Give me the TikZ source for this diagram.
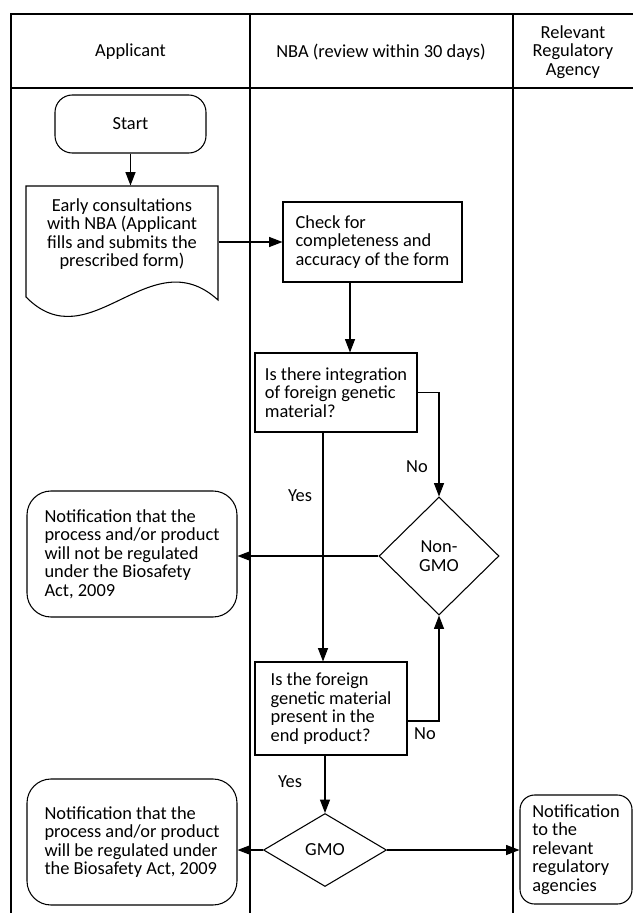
\documentclass[tikz,border=0pt]{standalone}
\usepackage{fontspec}
\setmainfont{Carlito}
\usetikzlibrary{arrows.meta,shapes.geometric}

\tikzset{
  arr/.style={-{Triangle[length=10pt,width=7.5pt]}},
  procbox/.style={draw, align=left, inner sep=0pt},
  termbox/.style={draw, rounded corners=18pt, align=left, inner sep=0pt},
  decision/.style={draw, diamond, align=center, inner sep=0pt},
  docbox/.style={align=center, inner sep=0pt},
  lanehead/.style={align=center, inner sep=0pt},
  lbl/.style={inner sep=0pt},
}

\begin{document}
\begin{tikzpicture}[x=0.75pt,y=0.75pt,yscale=-1,xscale=1,line width=0.8pt,
  font=\fontsize{13.8pt}{13.9pt}\selectfont]
\useasboundingbox (0,0) rectangle (633,913);

%Swimlanes
\draw (11,913) -- (11,14) -- (633,14) ;
\draw (11,88) -- (633,88) ;
\draw (250,14) -- (250,913) ;
\draw (513,14) -- (513,913) ;

% Lane heads
\node[lanehead] (hdapp) at (130.5,52) {Applicant};
\node[lanehead] (hdnba) at (381,52) {NBA (review within 30 days)};
\node[lanehead] (hdreg) at (573,52) {Relevant\\Regulatory\\Agency};

%Shape: Terminal
\node[termbox, rounded corners=13pt, align=center, minimum width=113.25pt, minimum height=43.5pt] (start) at (130.5,124) {Start};

%Shape: Document
\draw (26,186) -- (218,186) -- (218,300) .. controls (150,238) and (90,362) .. (26,297) -- cycle ;
\node[docbox, minimum width=144pt, minimum height=72pt] (consult) at (122,234) {Early consultations\\with NBA (Applicant\\fills and submits the\\prescribed form)};

%Shape: Rectangle
\node[procbox, minimum width=134.25pt, minimum height=60pt] (check) at (372.5,242) {Check for\\completeness and\\accuracy of the form};
%Shape: Rectangle
\node[procbox, minimum width=121.5pt, minimum height=59.25pt] (integ) at (336,392.5) {Is there integration\\of foreign genetic\\material?};
%Shape: Rectangle
\node[procbox, minimum width=114pt, minimum height=69.75pt] (ptest) at (331,708.5) {Is the foreign\\genetic material\\present in the\\end product?};

%Shape: Diamond
\node[decision, minimum width=90pt, minimum height=88.5pt] (nongmo) at (439,556) {Non-\\GMO};
%Shape: Diamond
\node[decision, minimum width=92.25pt, minimum height=54.75pt] (gmo) at (325,850) {GMO};

%Shape: Rounded Rectangle
\node[termbox, minimum width=157.5pt, minimum height=94.5pt] (notnotif) at (132,554) {Notification that the\\process and/or product\\will not be regulated\\under the Biosafety\\Act, 2009};
%Shape: Rounded Rectangle
\node[termbox, minimum width=157.5pt, minimum height=94.5pt] (regnotif) at (132,842) {Notification that the\\process and/or product\\will be regulated under\\the Biosafety Act, 2009};
%Shape: Rounded Rectangle
\node[termbox, rounded corners=11pt, minimum width=84pt, minimum height=81.75pt] (agnotif) at (576,849.5) {Notification\\to the\\relevant\\regulatory\\agencies};

\coordinate (xa) at (350,0);
\coordinate (xb) at (323,0);
\coordinate (yc) at (0,721);

%Straight Lines
\draw[arr] (start.south) -- (start.south |- consult.north) ;
\draw[arr] (check.west -| consult.east) -- (check.west) ;
\draw[arr] (check.south -| xa) -- (integ.north -| xa) ;
\draw[arr] (integ.east) -| (nongmo.north) ;
\draw[arr] (integ.south -| xb) -- (ptest.north -| xb) ;
\draw[arr] (nongmo.west) -- (nongmo.west -| notnotif.east) ;
\draw[arr] (ptest.east |- yc) -| (nongmo.south) ;
\draw[arr] (ptest.south -| gmo.north) -- (gmo.north) ;
\draw[arr] (gmo.west) -- (gmo.west -| regnotif.east) ;
\draw[arr] (gmo.east) -- (gmo.east -| agnotif.west) ;

% Text Node
\node[lbl] (no1) at (417,467) {No};
% Text Node
\node[lbl] (yes1) at (300,496) {Yes};
% Text Node
\node[lbl] (no2) at (425,734) {No};
% Text Node
\node[lbl] (yes2) at (290,782) {Yes};

\end{tikzpicture}
\end{document}
